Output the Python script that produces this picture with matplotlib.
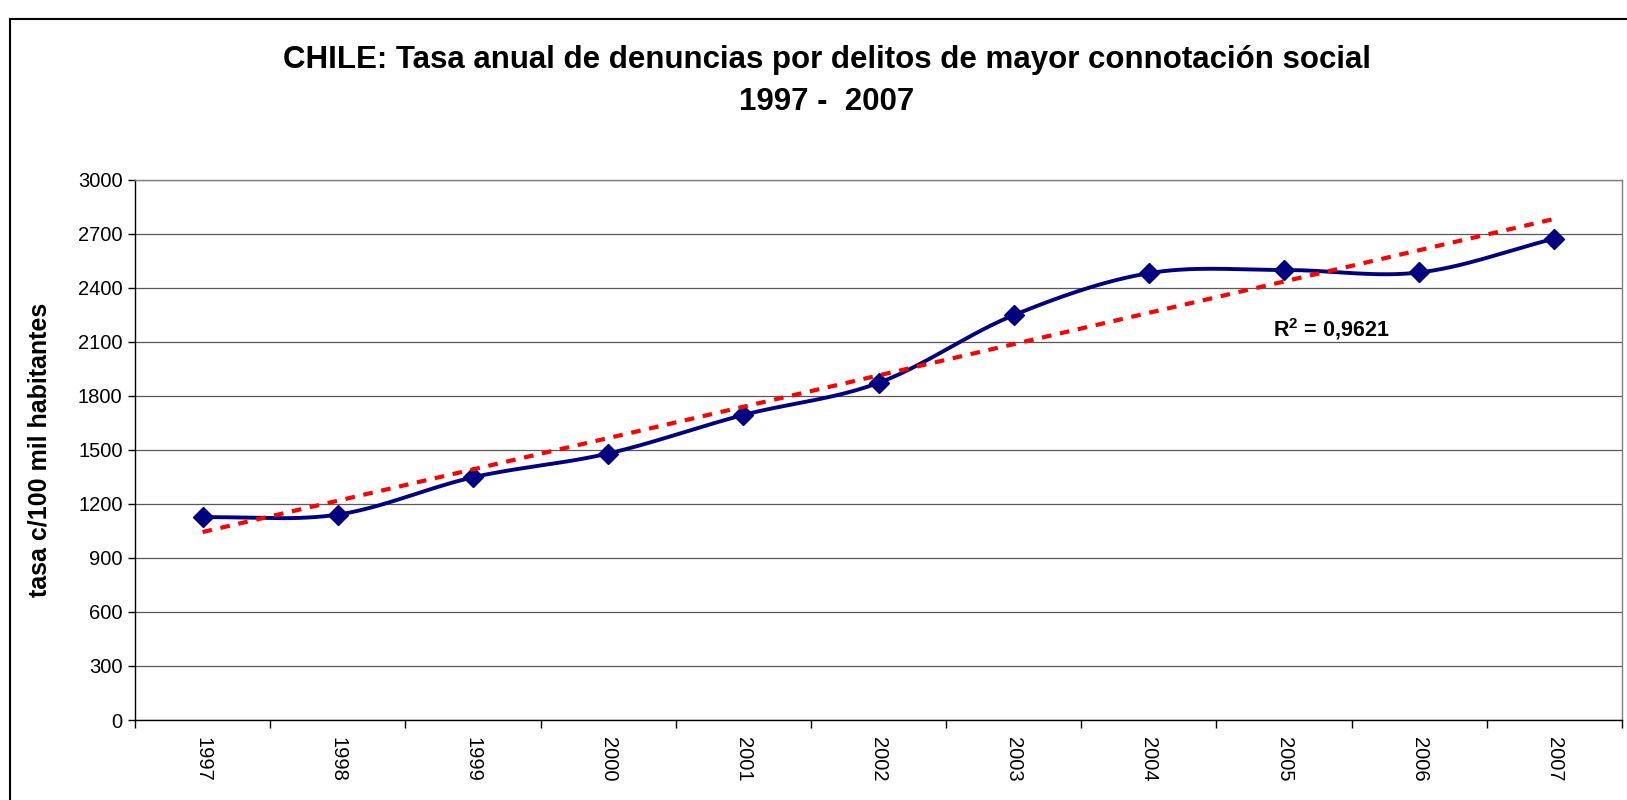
import numpy as np
import matplotlib
matplotlib.use("Agg")
import matplotlib.pyplot as plt
from matplotlib.lines import Line2D

years = ["1997", "1998", "1999", "2000", "2001", "2002", "2003", "2004", "2005", "2006", "2007"]
tasa = [1125, 1140, 1347, 1479, 1693, 1871, 2247, 2480, 2498, 2484, 2672]
r2_label = "R$^{2}$ = 0,9621"
title = "CHILE: Tasa anual de denuncias por delitos de mayor connotación social\n1997 -  2007"
ylabel = "tasa c/100 mil habitantes"
yticks = [0, 300, 600, 900, 1200, 1500, 1800, 2100, 2400, 2700, 3000]

plt.rcParams['font.family'] = ['Liberation Sans', 'DejaVu Sans']
plt.rcParams['mathtext.fontset'] = 'custom'
plt.rcParams['mathtext.rm'] = 'Liberation Sans:bold'
plt.rcParams['mathtext.it'] = 'Liberation Sans:bold'
plt.rcParams['mathtext.bf'] = 'Liberation Sans:bold'

fig = plt.figure(figsize=(16.27, 8.0), dpi=100)
ax = fig.add_axes([135/1627, 1-720/800, (1622-135)/1627, (720-179.5)/800])

x = np.arange(len(years))
y = np.array(tasa, dtype=float)

# Smoothed line (Catmull-Rom through the data points, like Excel's smoothed line)
def catmull_rom(xp, yp, n=30):
    px = np.concatenate([[2*xp[0]-xp[1]], xp, [2*xp[-1]-xp[-2]]])
    py = np.concatenate([[2*yp[0]-yp[1]], yp, [2*yp[-1]-yp[-2]]])
    xs, ys = [], []
    t = np.linspace(0, 1, n, endpoint=False)
    for i in range(1, len(px)-2):
        p0, p1, p2, p3 = [np.array([px[j], py[j]]) for j in (i-1, i, i+1, i+2)]
        for tt in t:
            pt = 0.5*((2*p1) + (-p0+p2)*tt + (2*p0-5*p1+4*p2-p3)*tt**2 + (-p0+3*p1-3*p2+p3)*tt**3)
            xs.append(pt[0]); ys.append(pt[1])
    xs.append(xp[-1]); ys.append(yp[-1])
    return np.array(xs), np.array(ys)

sx, sy = catmull_rom(x.astype(float), y)

# trend line
coef = np.polyfit(x, y, 1)
tx = np.array([x[0], x[-1]], dtype=float)
ty = np.polyval(coef, tx)

ax.set_xlim(-0.5, len(years)-0.5)
ax.set_ylim(0, 3000)
ax.set_yticks(yticks)
ax.set_yticklabels([str(v) for v in yticks], fontsize=14.5)
ax.yaxis.grid(True, color='#000000', linewidth=0.9, alpha=0.65)
ax.set_axisbelow(True)

ax.plot(sx, sy, color='#000080', linewidth=2.8, zorder=3, solid_capstyle='round')
ax.plot(x, y, linestyle='none', marker='D', markersize=10.5, color='#000080', zorder=4)
ax.plot(tx, ty, color='#ff0000', linewidth=3.0, dashes=(2.3, 2.1), zorder=5)

ax.text(8.35, 2170, r2_label, fontsize=15.5, fontweight='bold', ha='center', va='center', color='black')

# x ticks at category boundaries
ax.set_xticks(np.arange(-0.5, len(years), 1.0))
ax.set_xticklabels([])
ax.set_xticks(x, minor=True)
ax.set_xticklabels(years, minor=True, rotation=-90, fontsize=14.5)
ax.tick_params(axis='x', which='minor', length=0, pad=12)
ax.tick_params(axis='x', which='major', length=6, direction='out', width=1)
ax.tick_params(axis='y', length=5, direction='out', width=1, pad=4)

for s in ['left', 'bottom']:
    ax.spines[s].set_color('black')
    ax.spines[s].set_linewidth(1.0)
ax.spines['top'].set_color('#808080')
ax.spines['right'].set_color('#808080')
ax.spines['top'].set_linewidth(1.0)
ax.spines['right'].set_linewidth(1.0)

ax.set_ylabel(ylabel, fontsize=18, fontweight='bold', labelpad=19)

fig.text(827/1627, 1-81/800, title, ha='center', va='center', fontsize=22.5, fontweight='bold', linespacing=1.55)

# figure border (top and left)
fig.add_artist(Line2D([10/1627, 10/1627], [0, 1-19/800], color='black', linewidth=1.5, transform=fig.transFigure))
fig.add_artist(Line2D([10/1627, 1], [1-19/800, 1-19/800], color='black', linewidth=1.5, transform=fig.transFigure))

fig.savefig("out.png", dpi=100)
